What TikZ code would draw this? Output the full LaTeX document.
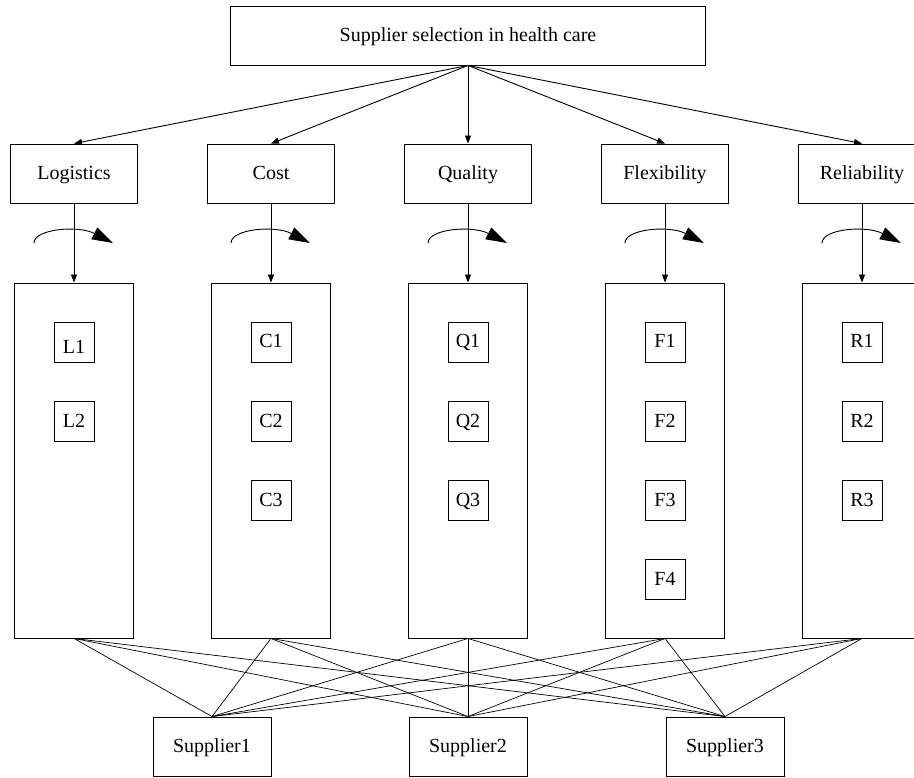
\documentclass[tikz,border=0pt]{standalone}
\usepackage{fontspec}
\setmainfont{Liberation Serif}
\usetikzlibrary{arrows.meta}
\begin{document}
\begin{tikzpicture}[x=1pt,y=-1pt,
  box/.style={draw, line width=0.9pt, inner sep=0pt, font=\fontsize{20}{24}\selectfont, text height=14pt, text depth=2pt},
  crit/.style={box, minimum width=127pt, minimum height=59pt},
  tall/.style={draw, line width=0.9pt, inner sep=0pt, minimum width=119pt, minimum height=355pt},
  sub/.style={box, minimum width=40pt, minimum height=40pt},
  supp/.style={box, minimum width=118pt, minimum height=59pt},
  arr/.style={line width=0.9pt, -{Triangle[length=8pt,width=6pt]}},
  link/.style={line width=0.7pt},
  turn/.style={line width=0.9pt, -{Triangle[length=21pt,width=13pt]}}]
\useasboundingbox (0,0) rectangle (914,778);
\clip (0,0) rectangle (914,778);
\node[box, minimum width=475pt, minimum height=59pt] (top) at (468,35.5) {Supplier selection in health care};
\foreach \i/\x/\t in {1/74/Logistics,2/271/Cost,3/468/Quality,4/665/Flexibility,5/862/Reliability}{
  \node[crit] (c\i) at (\x,173.5) {\t};
  \node[tall] (g\i) at (\x,460.5) {};
  \draw[arr] (top.south) -- (c\i.north);
  \draw[arr] (c\i.south) -- (g\i.north);
  \draw[turn] (\x-40,243) .. controls (\x-40,229) and (\x+4,225) .. (\x+39,243);
}
\node[sub] (L1) at (74,342) {\raisebox{-6pt}{L1}};
\node[sub] (L2) at (74,421) {L2};
\foreach \n/\k in {C1/0,C2/1,C3/2}{\node[sub] (\n) at (271,342+79*\k) {\n};}
\foreach \n/\k in {Q1/0,Q2/1,Q3/2}{\node[sub] (\n) at (468,342+79*\k) {\n};}
\foreach \n/\k in {F1/0,F2/1,F3/2,F4/3}{\node[sub] (\n) at (665,342+79*\k) {\n};}
\foreach \n/\k in {R1/0,R2/1,R3/2}{\node[sub] (\n) at (862,342+79*\k) {\n};}
\node[supp] (s1) at (212,746.5) {Supplier1};
\node[supp] (s2) at (468,746.5) {Supplier2};
\node[supp] (s3) at (725,746.5) {Supplier3};
\foreach \i in {1,...,5}{
  \foreach \j in {1,2,3}{
    \draw[link] (g\i.south) -- (s\j.north);
  }
}
\end{tikzpicture}
\end{document}
